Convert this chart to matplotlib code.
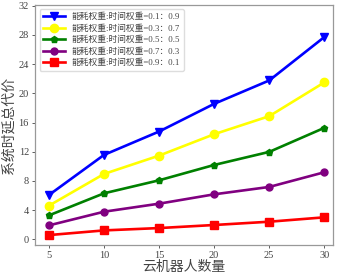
import matplotlib.pyplot as plt

plt.rcParams['font.family'] = ['Liberation Serif', 'Noto Sans CJK SC']

robots = [5, 10, 15, 20, 25, 30]
labels = ['能耗权重:时间权重=0.1：0.9', '能耗权重:时间权重=0.3：0.7',
          '能耗权重:时间权重=0.5：0.5', '能耗权重:时间权重=0.7：0.3',
          '能耗权重:时间权重=0.9：0.1']
cost_01 = [6.08, 11.57, 14.77, 18.56, 21.76, 27.7]
cost_03 = [4.62, 8.96, 11.47, 14.4, 16.87, 21.49]
cost_05 = [3.29, 6.31, 8.09, 10.19, 11.98, 15.27]
cost_07 = [1.92, 3.79, 4.89, 6.17, 7.18, 9.19]
cost_09 = [0.59, 1.23, 1.55, 1.97, 2.42, 3.02]
yticks = [0, 4, 8, 12, 16, 20, 24, 28, 32]

series = [cost_01, cost_03, cost_05, cost_07, cost_09]
colors = ['blue', 'yellow', 'green', 'purple', 'red']
markers = ['v', 'o', 'p', 'o', 's']
msizes = [6, 6, 5, 5, 6]

fig = plt.figure(figsize=(3.42, 2.74), dpi=100)
ax = fig.add_axes([0.103, 0.105, 0.871, 0.877])
for ys, c, m, ms, lab in zip(series, colors, markers, msizes, labels):
    ax.plot(robots, ys, color=c, marker=m, markersize=ms, linewidth=1.9, label=lab)

ax.set_xticks(robots)
ax.set_yticks(yticks)
ax.set_xlim(3.75, 30.8)
ax.set_ylim(-0.8, 32.1)
ax.tick_params(labelsize=7.5, length=2.5, width=0.6, colors='#444444', pad=2)
for s in ax.spines.values():
    s.set_color('#999999')
    s.set_linewidth(0.9)

ax.set_xlabel('云机器人数量', fontsize=10, family=['Noto Sans CJK SC'], color='#444444', labelpad=0)
ax.set_ylabel('系统时延总代价', fontsize=10, family=['Noto Sans CJK SC'], color='#444444', labelpad=2)
leg = ax.legend(loc='upper left', prop={'family': ['Liberation Serif', 'Noto Sans CJK SC'], 'size': 6.3},
                handlelength=2.5, borderpad=0.4, labelspacing=0.35, framealpha=1, edgecolor='#dddddd')
for t in leg.get_texts():
    t.set_color('#444444')

fig.savefig('out.png', dpi=100)
